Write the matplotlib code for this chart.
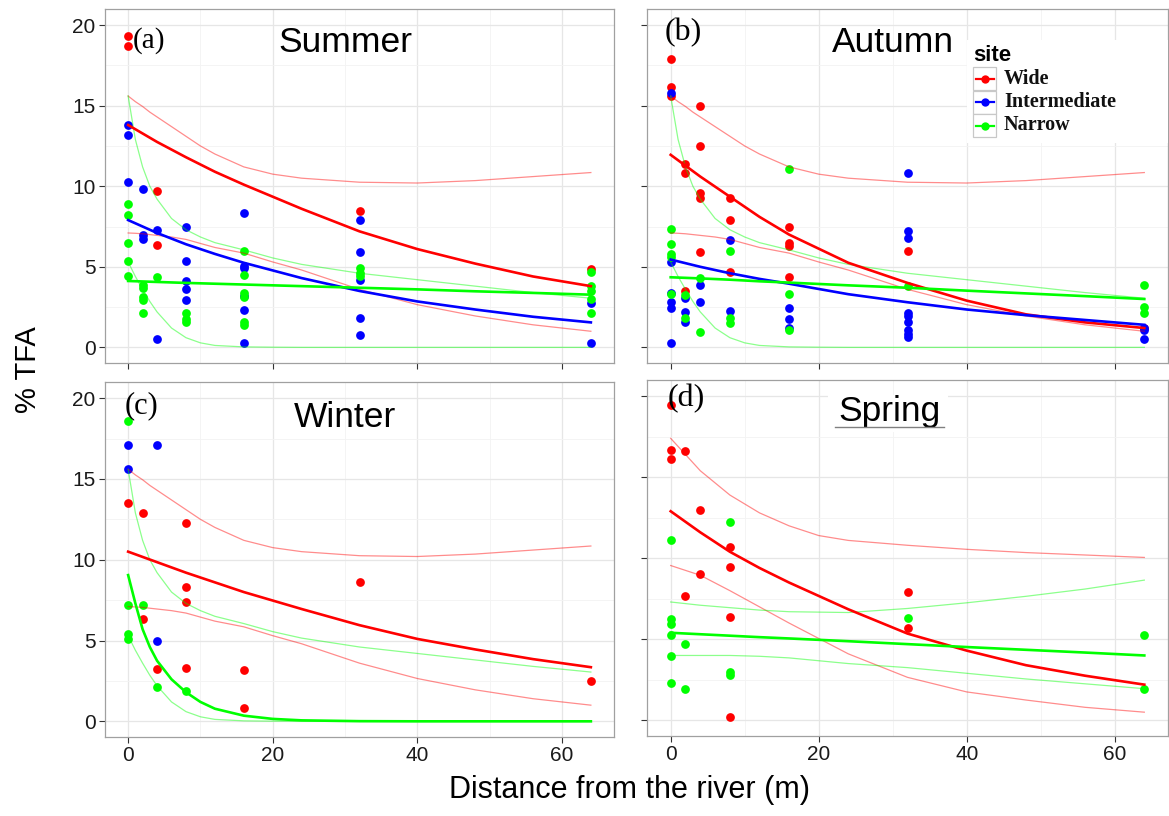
import matplotlib
matplotlib.use('Agg')
import matplotlib.pyplot as plt
from matplotlib.lines import Line2D
from matplotlib.patches import Rectangle

W, H = 1169, 816
RED, BLUE, GREEN = '#ff0000', '#0000ff', '#00ff00'
SANS = ['Liberation Sans', 'DejaVu Sans']
SERIF = ['Liberation Serif', 'DejaVu Serif']

sites = ['Wide', 'Intermediate', 'Narrow']
site_colors = [RED, BLUE, GREEN]
seasons = ['Summer', 'Autumn', 'Winter', 'Spring']
panel_tags = ['(a)', '(b)', '(c)', '(d)']

# ---- observations: distance from river (m) and % TFA ----
summer_wide_x = [0, 0, 4, 4, 32, 64]
summer_wide_y = [19.3, 18.7, 9.7, 6.35, 8.45, 4.85]
summer_inter_x = [0, 0, 0, 2, 2, 2, 4, 4, 8, 8, 8, 8, 8,
                  16, 16, 16, 16, 16, 16, 32, 32, 32, 32, 32, 64, 64]
summer_inter_y = [13.8, 13.2, 10.25, 9.8, 7.0, 6.7, 7.3, 0.5, 7.45, 5.35, 4.15, 3.65, 2.95,
                  8.35, 5.05, 4.9, 3.2, 2.3, 0.25, 7.9, 5.9, 4.2, 1.8, 0.75, 2.75, 0.3]
summer_narrow_x = [0, 0, 0, 0, 0, 2, 2, 2, 2, 2, 4, 8, 8, 8,
                   16, 16, 16, 16, 16, 16, 32, 32, 32, 64, 64, 64, 64, 64]
summer_narrow_y = [8.9, 8.2, 6.5, 5.35, 4.4, 3.9, 3.7, 3.1, 2.95, 2.15, 4.35, 2.15, 1.75, 1.55,
                   5.95, 4.5, 3.35, 3.15, 1.6, 1.4, 4.9, 4.6, 4.4, 4.65, 3.8, 3.5, 3.0, 2.15]

autumn_wide_x = [0, 0, 0, 2, 2, 2, 4, 4, 4, 4, 4, 8, 8, 8, 16, 16, 16, 16, 32, 64]
autumn_wide_y = [17.9, 16.15, 15.6, 11.4, 10.8, 3.5, 14.95, 12.5, 9.6, 9.3, 5.9,
                 9.25, 7.9, 4.7, 7.5, 6.45, 6.3, 4.35, 6.0, 1.2]
autumn_inter_x = [0, 0, 0, 0, 0, 0, 2, 2, 2, 4, 4, 8, 8, 16, 16, 16,
                  32, 32, 32, 32, 32, 32, 32, 32, 32, 64, 64, 64]
autumn_inter_y = [15.8, 5.3, 3.4, 2.8, 2.45, 0.3, 3.05, 2.2, 1.6, 3.85, 2.8, 6.65, 2.25,
                  2.45, 1.75, 1.2, 10.8, 7.25, 6.8, 2.15, 1.95, 1.6, 1.1, 0.85, 0.65,
                  1.2, 1.05, 0.55]
autumn_narrow_x = [0, 0, 0, 0, 0, 2, 2, 4, 4, 8, 8, 8, 16, 16, 16, 32, 64, 64, 64]
autumn_narrow_y = [7.35, 6.4, 5.8, 5.6, 3.3, 3.25, 1.8, 4.3, 0.95, 6.0, 1.8, 1.5,
                   11.1, 3.3, 1.1, 3.8, 3.9, 2.5, 2.15]

winter_wide_x = [0, 2, 2, 4, 8, 8, 8, 8, 16, 16, 32, 64]
winter_wide_y = [13.5, 12.9, 6.35, 3.25, 12.25, 8.3, 7.4, 3.3, 3.2, 0.85, 8.65, 2.5]
winter_inter_x = [0, 0, 4, 4]
winter_inter_y = [17.1, 15.6, 17.1, 5.0]
winter_narrow_x = [0, 0, 0, 0, 2, 4, 8]
winter_narrow_y = [18.6, 7.2, 5.4, 5.1, 7.2, 2.15, 1.85]

spring_wide_x = [0, 0, 0, 2, 2, 4, 4, 8, 8, 8, 8, 32, 32]
spring_wide_y = [19.45, 16.7, 16.1, 16.6, 7.7, 12.95, 9.05, 10.7, 9.45, 6.35, 0.2, 7.9, 5.7]
spring_inter_x = []
spring_inter_y = []
spring_narrow_x = [0, 0, 0, 0, 0, 0, 2, 2, 8, 8, 8, 32, 64, 64]
spring_narrow_y = [11.1, 6.25, 5.95, 5.25, 3.95, 2.3, 4.7, 1.95, 12.25, 2.95, 2.8, 6.3, 5.25, 1.95]

# ---- fitted curves ----
fit_x = [0, 4, 8, 12, 16, 24, 32, 40, 48, 56, 64]
summer_wide_fit = [13.8, 12.75, 11.8, 10.9, 10.1, 8.6, 7.2, 6.1, 5.2, 4.4, 3.8]
summer_inter_fit = [7.9, 7.1, 6.4, 5.8, 5.25, 4.3, 3.5, 2.85, 2.35, 1.9, 1.55]
summer_narrow_fit = [4.12, 4.06, 4.0, 3.95, 3.9, 3.8, 3.7, 3.6, 3.48, 3.38, 3.27]
autumn_wide_fit = [11.95, 10.6, 9.35, 8.1, 7.0, 5.25, 4.0, 2.9, 2.05, 1.55, 1.2]
autumn_inter_fit = [5.45, 5.0, 4.6, 4.25, 3.95, 3.3, 2.8, 2.35, 2.0, 1.7, 1.4]
autumn_narrow_fit = [4.35, 4.28, 4.2, 4.1, 4.02, 3.85, 3.7, 3.52, 3.35, 3.18, 3.0]
winter_wide_fit = [10.5, 9.85, 9.2, 8.6, 8.0, 6.95, 5.95, 5.1, 4.45, 3.85, 3.35]
spring_wide_fit = [12.9, 11.6, 10.4, 9.4, 8.5, 6.85, 5.35, 4.3, 3.4, 2.75, 2.2]
spring_narrow_fit = [5.4, 5.31, 5.22, 5.13, 5.05, 4.88, 4.7, 4.52, 4.35, 4.18, 4.0]
spring_narrow_upper = [7.3, 7.1, 6.95, 6.8, 6.7, 6.65, 6.9, 7.25, 7.65, 8.1, 8.65]
spring_narrow_lower = [4.0, 4.0, 4.0, 3.95, 3.85, 3.5, 3.25, 2.9, 2.55, 2.25, 1.95]

# confidence lines (identical in panels a, b, c)
ci_x = [0, 1, 2, 3, 4, 6, 8, 10, 12, 16, 20, 24, 32, 40, 48, 56, 64]
ci_wide_upper = [15.6, 15.25, 14.95, 14.6, 14.3, 13.7, 13.1, 12.5, 12.0, 11.2, 10.75,
                 10.5, 10.25, 10.2, 10.35, 10.6, 10.85]
ci_wide_lower = [7.1, 7.08, 7.05, 7.0, 6.95, 6.85, 6.7, 6.45, 6.2, 5.85, 5.3, 4.8,
                 3.6, 2.65, 1.95, 1.4, 1.0]
ci_narrow_upper = [15.6, 12.9, 11.2, 10.0, 9.2, 8.0, 7.3, 6.85, 6.5, 6.05, 5.55, 5.15,
                   4.6, 4.2, 3.8, 3.4, 3.05]
ci_narrow_lower = [5.3, 4.4, 3.6, 2.85, 2.2, 1.2, 0.6, 0.28, 0.12, 0.03, 0.01, 0.0,
                   0.0, 0.0, 0.0, 0.0, 0.0]
winter_narrow_fit = [9.05, 7.3, 5.7, 4.6, 3.75, 2.6, 1.8, 1.2, 0.78, 0.35, 0.15, 0.06,
                     0.01, 0.0, 0.0, 0.0, 0.0]

spring_ci_x = [0, 4, 8, 12, 16, 20, 24, 32, 40, 48, 56, 64]
spring_wide_upper = [17.4, 15.4, 13.9, 12.8, 12.0, 11.4, 11.1, 10.8, 10.55, 10.35, 10.2, 10.05]
spring_wide_lower = [9.55, 8.95, 8.0, 7.0, 6.0, 5.05, 4.1, 2.65, 1.75, 1.25, 0.8, 0.5]

points = {
    'Summer': [(summer_wide_x, summer_wide_y), (summer_inter_x, summer_inter_y),
               (summer_narrow_x, summer_narrow_y)],
    'Autumn': [(autumn_wide_x, autumn_wide_y), (autumn_inter_x, autumn_inter_y),
               (autumn_narrow_x, autumn_narrow_y)],
    'Winter': [(winter_wide_x, winter_wide_y), (winter_inter_x, winter_inter_y),
               (winter_narrow_x, winter_narrow_y)],
    'Spring': [(spring_wide_x, spring_wide_y), (spring_inter_x, spring_inter_y),
               (spring_narrow_x, spring_narrow_y)],
}
shared_ci = [(ci_x, ci_wide_upper, RED), (ci_x, ci_wide_lower, RED),
             (ci_x, ci_narrow_upper, GREEN), (ci_x, ci_narrow_lower, GREEN)]
ci_lines = {
    'Summer': shared_ci, 'Autumn': shared_ci, 'Winter': shared_ci,
    'Spring': [(spring_ci_x, spring_wide_upper, RED), (spring_ci_x, spring_wide_lower, RED),
               (fit_x, spring_narrow_upper, GREEN), (fit_x, spring_narrow_lower, GREEN)],
}
fits = {
    'Summer': [(fit_x, summer_wide_fit, RED), (fit_x, summer_inter_fit, BLUE),
               (fit_x, summer_narrow_fit, GREEN)],
    'Autumn': [(fit_x, autumn_wide_fit, RED), (fit_x, autumn_inter_fit, BLUE),
               (fit_x, autumn_narrow_fit, GREEN)],
    'Winter': [(fit_x, winter_wide_fit, RED), (ci_x, winter_narrow_fit, GREEN)],
    'Spring': [(fit_x, spring_wide_fit, RED), (fit_x, spring_narrow_fit, GREEN)],
}


def fig_rect(left, top, right, bottom):
    return [left / W, 1 - bottom / H, (right - left) / W, (bottom - top) / H]


def fx(px):
    return px / W


def fy(py):
    return 1 - py / H


panel_boxes = [fig_rect(105, 9, 614, 363), fig_rect(647, 9, 1168, 363),
               fig_rect(105, 382, 614, 737), fig_rect(647, 380, 1168, 736)]
tag_pos = [(0.055, 0.912), (0.033, 0.932), (0.039, 0.934), (0.040, 0.949)]
tag_size = [21, 23, 22, 23]
title_pos = [(0.4715, 0.904), (0.472, 0.904), (0.4715, 0.901), (0.466, 0.911)]

fig = plt.figure(figsize=(W / 100, H / 100), dpi=100)

for i, season in enumerate(seasons):
    ax = fig.add_axes(panel_boxes[i])
    ax.set_xlim(-3.2, 67.2)
    ax.set_ylim(-0.97, 21.0)
    ax.set_xticks([0, 20, 40, 60])
    ax.set_xticks([10, 30, 50], minor=True)
    ax.set_yticks([0, 5, 10, 15, 20])
    ax.set_yticks([2.5, 7.5, 12.5, 17.5], minor=True)
    ax.set_axisbelow(True)
    ax.grid(which='major', color='#e6e6e6', lw=0.9)
    ax.grid(which='minor', color='#f3f3f3', lw=0.6)
    for sp in ax.spines.values():
        sp.set_color('#a0a0a0')
        sp.set_linewidth(0.9)
    ax.tick_params(which='major', length=4.3, width=0.8, color='#333333', pad=2.5,
                   labelsize=15, labelcolor='#1a1a1a')
    ax.tick_params(which='minor', length=0)
    for lab in ax.get_xticklabels() + ax.get_yticklabels():
        lab.set_family(SANS)
    if i < 2:
        ax.tick_params(labelbottom=False)
    if i % 2 == 1:
        ax.tick_params(labelleft=False)

    for (xs, ys), c in zip(points[season], site_colors):
        if xs:
            ax.plot(xs, ys, 'o', color=c, ms=6.3, mec='none', zorder=2)
    for xs, ys, c in ci_lines[season]:
        ax.plot(xs, ys, color=c, lw=0.9, alpha=0.45, zorder=3)
    for xs, ys, c in fits[season]:
        ax.plot(xs, ys, color=c, lw=1.9, zorder=4)

    ax.text(*tag_pos[i], panel_tags[i], transform=ax.transAxes, family=SERIF,
            fontsize=tag_size[i], ha='left', va='center', zorder=6)
    ax.text(*title_pos[i], season, transform=ax.transAxes, family=SANS,
            fontsize=25.5, ha='center', va='center', zorder=6)
    if season == 'Spring':
        ax.add_patch(Rectangle((0.347, 0.854), 0.231, 0.104, transform=ax.transAxes,
                               facecolor='white', edgecolor='none', zorder=1))
        ax.plot([0.361, 0.570], [0.869, 0.869], transform=ax.transAxes,
                color='#808080', lw=1.0, zorder=6)

# legend (drawn in panel b, ggplot style)
fig.add_artist(Rectangle((fx(967), fy(143)), fx(1168) - fx(967), fy(40) - fy(143),
                         transform=fig.transFigure, facecolor='white', edgecolor='none',
                         zorder=5))
fig.text(fx(973), fy(61), 'site', family=SANS, fontsize=16, fontweight='bold',
         ha='left', va='baseline', zorder=6)
key_tops = [67.3, 90.7, 114.0]
for k, (name, c) in enumerate(zip(sites, site_colors)):
    top = key_tops[k]
    fig.add_artist(Rectangle((fx(973), fy(top + 23)), fx(996) - fx(973), fy(top) - fy(top + 23),
                             transform=fig.transFigure, facecolor='white',
                             edgecolor='#c8c8c8', lw=0.9, zorder=6))
    cy = fy(top + 11.5)
    fig.add_artist(Line2D([fx(976), fx(994)], [cy, cy], transform=fig.transFigure,
                          color=c, lw=1.6, zorder=7))
    fig.add_artist(Line2D([fx(985)], [cy], transform=fig.transFigure, marker='o',
                          ms=6, color=c, mec='none', zorder=7))
    fig.text(fx(1004), cy, name, family=SERIF, fontsize=14.5, fontweight='bold',
             ha='left', va='center', color='#111111', zorder=7)

fig.text(fx(629), fy(790), 'Distance from the river (m)', family=SANS, fontsize=22,
         ha='center', va='center')
fig.text(fx(28), fy(370), '% TFA', family=SANS, fontsize=21, rotation=90,
         ha='center', va='center')

fig.savefig('out.png', dpi=100)
